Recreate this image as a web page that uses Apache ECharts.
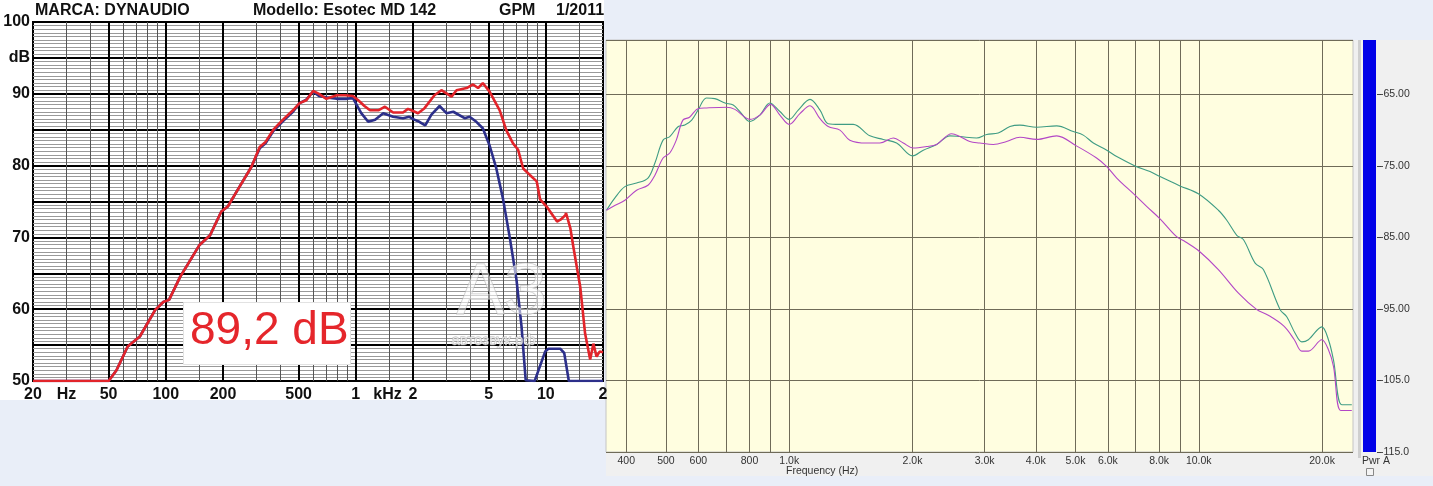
<!DOCTYPE html>
<html><head><meta charset="utf-8">
<script src="https://cdn.jsdelivr.net/npm/echarts@6/dist/echarts.min.js"></script>
<style>
html,body{margin:0;padding:0;background:#e9eef8;width:1433px;height:486px;overflow:hidden}
#bgL{position:absolute;left:0;top:0;width:604px;height:400px;background:#fff}
#bgR{position:absolute;left:1353px;top:40px;width:80px;height:436px;background:#f0f0f0}
#bgB{position:absolute;left:606px;top:452px;width:827px;height:24px;background:#f0f0f0}
#div1{position:absolute;left:1358px;top:40px;width:3px;height:418px;background:#cfcfcf}
#chart{position:absolute;left:0;top:0;width:1433px;height:486px}
</style></head>
<body>
<div id="bgL"></div><div id="bgR"></div><div id="bgB"></div><div id="div1"></div>
<div id="chart"></div>
<script>
// ---------- LEFT CHART DATA (GPM) ----------
const redFreq = [20,50,55,63,73,88,97,104,119,150,171,196,212,245,282,312,335,368,414,467,506,549,596,640,700,794,880,966,1030,1110,1188,1314,1424,1572,1772,1882,2000,2126,2300,2594,2820,3190,3390,3830,4140,4400,4660,5060,5720,6200,6720,7150,7600,8240,8960,9330,10100,11460,12000,12680,12780,13460,13960,15180,16100,17120,17800,18500,19200,20000];
const redDb   = [50,50,51.5,54.8,56.2,59.9,61.0,61.3,64.5,68.9,70.3,73.6,74.3,77.1,79.8,82.6,83.3,85.0,86.4,87.7,88.7,89.1,90.4,90.0,89.3,89.8,89.8,89.7,89.1,88.3,87.7,87.7,88.2,87.4,87.4,87.9,87.6,87.3,88.0,89.8,90.5,89.6,90.5,90.8,91.3,90.8,91.5,90.3,87.7,84.9,83.1,82.2,79.6,78.7,77.8,75.3,74.3,72.2,72.5,73.1,73.4,71.3,68.7,63.1,56.6,53.0,55.2,53.4,54.1,54.0];
const blueFreq = [20,50,55,63,73,88,97,104,119,150,171,196,212,245,282,312,335,368,414,467,506,549,596,640,700,794,896,966,1068,1162,1264,1394,1572,1772,1912,2030,2160,2320,2500,2760,3000,3260,3740,3970,4310,4660,5060,5490,5950,6460,7010,7450,7840,8740,9920,10320,11900,12500,13220,20000];
const blueDb   = [50,50,51.5,54.8,56.2,59.9,61.0,61.3,64.5,68.9,70.3,73.6,74.3,77.1,79.8,82.4,83.1,84.8,86.2,87.5,88.7,89.2,90.3,89.7,89.5,89.3,89.3,89.4,87.3,86.1,86.4,87.3,86.8,86.6,86.8,86.4,86.1,85.6,87.1,88.3,87.3,87.5,86.6,86.8,86.1,85.2,82.8,79.6,75.4,70.0,64.1,57.6,50.1,50.0,54.1,54.5,54.5,53.9,50.0,50.0];
const leftTickFreqs  = [20,30,50,100,200,500,1000,1470,2000,5000,10000,20000];
const leftTickLabels = ['20','Hz','50','100','200','500','1','kHz','2','5','10','2'];
const leftThickLines = [50,100,200,500,1000,2000,5000,10000];
const leftThinLines  = [30,40,60,70,80,90,150,300,400,600,700,800,900,1500,3000,4000,6000,7000,8000,9000,15000];

// ---------- RIGHT CHART DATA ----------
const tealFreq = [358,375,397,424,452,470,492,511,536,556,578,599,628,658,697,730,758,802,848,897,949,1000,1052,1124,1189,1245,1330,1433,1574,1697,1829,2002,2125,2291,2469,2612,2869,3034,3239,3459,3660,4020,4499,4940,5224,5529,5962,6305,6988,7603,8043,9000,9977,11165,11706,12380,12850,13730,14380,15800,16400,17190,17850,18520,19970,20730,21320,22350,23640];
const tealDb   = [-81.2,-79.5,-77.9,-77.4,-76.7,-74.6,-71.4,-70.9,-69.5,-69.3,-68.6,-67.2,-65.5,-65.6,-66.2,-66.5,-67.4,-68.8,-67.9,-66.2,-67.4,-68.5,-67.2,-65.7,-67.2,-69.1,-69.2,-69.2,-70.8,-71.3,-71.8,-73.6,-72.8,-72.0,-70.8,-70.9,-71.1,-70.6,-70.4,-69.5,-69.3,-69.6,-69.4,-70.2,-70.7,-71.8,-72.8,-73.7,-75.0,-75.8,-76.5,-77.8,-78.9,-81.2,-82.6,-84.7,-85.3,-88.6,-89.5,-95.1,-96.1,-98.4,-99.6,-99.3,-97.5,-99.3,-102.1,-108.4,-108.4];
const magFreq = [358,376,397,424,452,470,492,511,530,550,571,599,628,703,737,802,848,901,949,1000,1062,1124,1189,1245,1330,1406,1545,1665,1795,1899,2009,2165,2291,2493,2612,2760,2920,3150,3394,3660,4020,4499,5026,5630,5962,6305,6988,7470,8043,8830,9270,10060,11165,12500,13860,14700,16140,17110,17850,18520,19970,20730,21320,22230,23640];
const magDb   = [-81.2,-80.5,-79.8,-78.4,-77.7,-76.3,-73.9,-73.2,-71.4,-68.6,-68.2,-67.0,-66.9,-66.8,-67.1,-68.5,-67.9,-66.4,-67.9,-69.2,-67.7,-66.6,-68.4,-69.5,-70.0,-71.4,-71.8,-71.8,-71.1,-71.8,-72.5,-72.3,-72.0,-70.5,-70.9,-71.6,-71.8,-72.0,-71.6,-71.0,-71.3,-70.8,-72.2,-73.9,-75.1,-76.7,-79.1,-80.7,-82.4,-84.9,-85.6,-87.0,-89.5,-92.8,-95.1,-95.8,-97.4,-99.3,-100.9,-100.9,-99.3,-100.7,-103.0,-109.2,-109.2];
const rightGridFreqs  = [400,500,600,700,800,900,1000,2000,3000,4000,5000,6000,7000,8000,9000,10000,20000];
const rightLabelFreqs = [400,500,600,800,1000,2000,3000,4000,5000,6000,8000,10000,20000];

const zip = (a, b) => a.map((v, i) => [v, b[i]]);
function nearestIdx(arr, v) {
  let best = 0, bd = Infinity;
  arr.forEach((t, i) => { const d = Math.abs(Math.log(t) - Math.log(v)); if (d < bd) { bd = d; best = i; } });
  return best;
}
const boldFont = "'Liberation Sans', Arial, sans-serif";
const smallFont = "'Liberation Sans', Arial, sans-serif";

const chart = echarts.init(document.getElementById('chart'), null, {renderer: 'canvas'});
const option = {
  animation: false,
  backgroundColor: 'transparent',
  grid: [
    {left: 33, top: 22, width: 570, height: 359, show: true, backgroundColor: '#ffffff', borderColor: '#000', borderWidth: 2, containLabel: false},
    {left: 606, top: 40, width: 747, height: 412, show: true, backgroundColor: '#fffee0', borderColor: '#c4c4c4', borderWidth: 1, containLabel: false}
  ],
  xAxis: [
    {type: 'log', gridIndex: 0, logBase: 10, min: 20, max: 20000,
     axisLine: {show: false}, axisTick: {show: false}, splitLine: {show: false},
     axisLabel: {customValues: leftTickFreqs, margin: 6, fontFamily: boldFont, fontWeight: 'bold', fontSize: 16, color: '#111',
       formatter: v => leftTickLabels[nearestIdx(leftTickFreqs, v)]}},
    {type: 'log', gridIndex: 1, logBase: 10, min: 357, max: 23800,
     axisLine: {show: false}, axisTick: {show: false}, splitLine: {show: false},
     axisLabel: {customValues: rightLabelFreqs, margin: 4, fontFamily: smallFont, fontSize: 10.5, color: '#333',
       formatter: v => { const t = rightLabelFreqs[nearestIdx(rightLabelFreqs, v)]; return t < 1000 ? String(t) : (t / 1000).toFixed(1) + 'k'; }}}
  ],
  yAxis: [
    {type: 'value', gridIndex: 0, min: 50, max: 100, interval: 5,
     axisLine: {show: false}, axisTick: {show: false},
     splitLine: {show: true, lineStyle: {color: '#000', width: 2}},
     minorTick: {show: false, splitNumber: 10},
     minorSplitLine: {show: true, lineStyle: {color: '#999999', width: 1}},
     axisLabel: {margin: 3, fontFamily: boldFont, fontWeight: 'bold', fontSize: 16, color: '#111',
       formatter: v => (Math.round(v) % 10 === 0 ? String(Math.round(v)) : (Math.round(v) === 95 ? 'dB' : ''))}},
    {type: 'value', gridIndex: 1, min: -115, max: -57.4, interval: 10, position: 'right', offset: 24,
     axisLine: {show: false}, axisTick: {show: true, length: 4, lineStyle: {color: '#444'}},
     splitLine: {show: true, lineStyle: {color: '#6f6b58', width: 1}},
     axisLabel: {margin: 3, showMaxLabel: false, fontFamily: smallFont, fontSize: 10.5, color: '#333',
       formatter: v => Number(v).toPrecision(4)}}
  ],
  series: [
    {type: 'line', xAxisIndex: 0, yAxisIndex: 0, data: [], z: 1, silent: true,
     markLine: {silent: true, z: 1, symbol: ['none', 'none'], label: {show: false}, animation: false,
       data: leftThinLines.map(v => ({xAxis: v, lineStyle: {color: '#555', width: 1, type: 'solid'}}))
         .concat(leftThickLines.map(v => ({xAxis: v, lineStyle: {color: '#000', width: 2, type: 'solid'}})))}},
    {type: 'line', xAxisIndex: 1, yAxisIndex: 1, data: [], z: 1, silent: true,
     markLine: {silent: true, z: 1, symbol: ['none', 'none'], label: {show: false}, animation: false,
       data: rightGridFreqs.map(v => ({xAxis: v, lineStyle: {color: '#6f6b58', width: 1, type: 'solid'}}))}},
    {name: 'blue', type: 'line', xAxisIndex: 0, yAxisIndex: 0, data: zip(blueFreq, blueDb), showSymbol: false,
     lineStyle: {color: '#2c2f8a', width: 2.6}, itemStyle: {color: '#2c2f8a'}, z: 3},
    {name: 'red', type: 'line', xAxisIndex: 0, yAxisIndex: 0, data: zip(redFreq, redDb), showSymbol: false,
     lineStyle: {color: '#e2242a', width: 2.6}, itemStyle: {color: '#e2242a'}, z: 4},
    {name: 'teal', type: 'line', xAxisIndex: 1, yAxisIndex: 1, data: zip(tealFreq, tealDb), showSymbol: false, smooth: 0.35,
     lineStyle: {color: '#3f9c84', width: 1.1}, itemStyle: {color: '#3f9c84'}, z: 3},
    {name: 'magenta', type: 'line', xAxisIndex: 1, yAxisIndex: 1, data: zip(magFreq, magDb), showSymbol: false, smooth: 0.35,
     lineStyle: {color: '#b347c6', width: 1.1}, itemStyle: {color: '#b347c6'}, z: 3}
  ],
  graphic: [
    {type: 'text', left: 35, top: 3, z: 10, style: {text: 'MARCA: DYNAUDIO', font: "bold 16px 'Liberation Sans', Arial", fill: '#111'}},
    {type: 'text', left: 253, top: 3, z: 10, style: {text: 'Modello: Esotec MD 142', font: "bold 16px 'Liberation Sans', Arial", fill: '#111'}},
    {type: 'text', left: 499, top: 3, z: 10, style: {text: 'GPM', font: "bold 16px 'Liberation Sans', Arial", fill: '#111'}},
    {type: 'text', left: 556, top: 3, z: 10, style: {text: '1/2011', font: "bold 16px 'Liberation Sans', Arial", fill: '#111'}},
    {type: 'rect', left: 183, top: 302, z: 20, shape: {width: 167, height: 62}, style: {fill: '#ffffff', stroke: '#e2e2e2', lineWidth: 1}},
    {type: 'text', left: 190, top: 308, z: 21, style: {text: '89,2 dB', font: "46px 'Liberation Sans', Arial", fill: '#e5262b'}},
    {type: 'text', left: 456, top: 258, z: 20, style: {text: 'АЗ', font: "72px 'Liberation Sans', Arial", fill: 'rgba(255,255,255,0.55)', stroke: 'rgba(160,160,160,0.6)', lineWidth: 1}},
    {type: 'text', left: 451, top: 333, z: 20, style: {text: 'автозвук.рф', font: "15px 'Liberation Sans', Arial", fill: 'rgba(255,255,255,0.7)', stroke: 'rgba(150,150,150,0.7)', lineWidth: 0.8}},
    {type: 'rect', left: 1363, top: 40, z: 10, shape: {width: 13, height: 412}, style: {fill: '#0000e8'}},
    {type: 'text', left: 1362, top: 456, z: 10, style: {text: 'Pwr A', font: "10.5px 'Liberation Sans', Arial", fill: '#333'}},
    {type: 'rect', left: 1366, top: 468, z: 10, shape: {width: 7, height: 7}, style: {fill: '#f4f4f4', stroke: '#888', lineWidth: 1}},
    {type: 'text', left: 786, top: 466, z: 10, style: {text: 'Frequency (Hz)', font: "10.5px 'Liberation Sans', Arial", fill: '#333'}}
  ]
};
chart.setOption(option);
</script>
</body></html>
